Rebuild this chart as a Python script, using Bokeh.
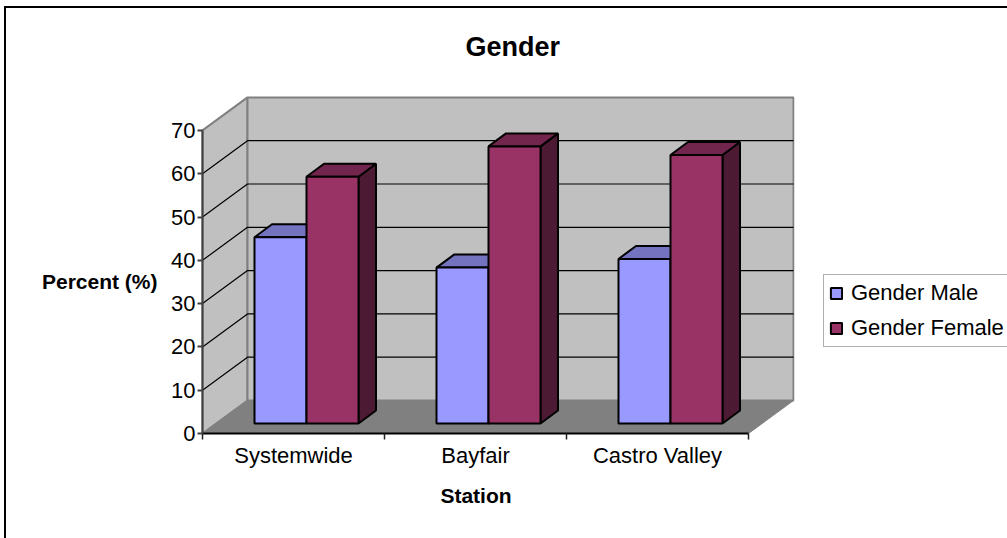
from bokeh.plotting import figure
from bokeh.models import Range1d, FixedTicker, LinearAxis, Legend, LegendItem, Title
from bokeh.embed import file_html
from bokeh.resources import INLINE

stations = ["Systemwide", "Bayfair", "Castro Valley"]
male = [43, 36, 38]
female = [57, 64, 62]
y_ticks = [0, 10, 20, 30, 40, 50, 60, 70]

W, H = 1007, 538
PX_X = 182.0      # pixels per category
PX_Y = 4.33       # pixels per percent
OX, OY = 202, 433                    # page position of the origin
FL, FR, FT, FB = 157, 794, 90, 472   # plot frame on the page
DX, DY = 45 / PX_X, 33 / PX_Y        # wall depth
SX, SY = 13 / PX_X, 10 / PX_Y        # bar plane shift
BX, BY = 17.5 / PX_X, 13 / PX_Y      # bar depth
BAR = 52 / PX_X

FONT = "Liberation Sans"
p = figure(width=W, height=H, frame_width=FR - FL, frame_height=FB - FT,
           output_backend="svg", toolbar_location=None,
           x_axis_type=None, y_axis_type=None,
           x_range=Range1d((FL - OX) / PX_X, (FR - OX) / PX_X),
           y_range=Range1d((OY - FB) / PX_Y, (OY - FT) / PX_Y),
           min_border_left=FL, min_border_right=W - FR, min_border_top=FT, min_border_bottom=H - FB,
           outline_line_color=None, border_fill_color=None, background_fill_color=None,
           styles={"background": "linear-gradient(#000,#000) 4px 6px / 2px 100% no-repeat, "
                                 "linear-gradient(#000,#000) 4px 6px / 100% 2px no-repeat"})
p.grid.visible = False

n = len(stations)
# walls and floor
p.patch([0, DX, DX, 0], [0, DY, 70 + DY, 70], fill_color="#C0C0C0", line_color="#808080", line_width=2)
p.patch([DX, n + DX, n + DX, DX], [DY, DY, 70 + DY, 70 + DY], fill_color="#C0C0C0", line_color="#808080", line_width=2)
p.patch([0, n, n + DX, DX], [0, 0, DY, DY], fill_color="#808080", line_color="#808080", line_width=1)
# grid lines
for t in y_ticks[1:-1]:
    p.line([0, DX, n + DX], [t, t + DY, t + DY], line_color="#000000", line_width=1.2)

# bars
rm = rf = None
for i in range(n):
    c = i + 0.5 + SX
    for j, (vals, front, top, side) in enumerate([
        (male, "#9999FF", "#7373BF", "#4D4D80"),
        (female, "#993366", "#73264D", "#4D1A33"),
    ]):
        x0 = c - BAR + j * BAR
        x1 = x0 + BAR
        v = vals[i] + SY
        p.patch([x1, x1 + BX, x1 + BX, x1], [SY, SY + BY, v + BY, v], fill_color=side, line_color="black", line_width=2)
        p.patch([x0, x0 + BX, x1 + BX, x1], [v, v + BY, v + BY, v], fill_color=top, line_color="black", line_width=2)
        r = p.quad(left=[x0], right=[x1], bottom=[SY], top=[v], fill_color=front, line_color="black", line_width=2)
        if j == 0:
            rm = r
        else:
            rf = r

# axis titles: label-only axes in the side panels
yl = LinearAxis(ticker=FixedTicker(ticks=[]), axis_line_color=None, major_tick_line_color=None, minor_tick_line_color=None,
                major_label_text_font_size="0px", axis_label="Percent (%)", axis_label_orientation="horizontal",
                axis_label_text_font=FONT, axis_label_text_font_style="bold", axis_label_text_font_size="21px",
                axis_label_text_color="black", axis_label_standoff=0)
p.add_layout(yl, "left")
xl = LinearAxis(ticker=FixedTicker(ticks=[]), axis_line_color=None, major_tick_line_color=None, minor_tick_line_color=None,
                major_label_text_font_size="0px", axis_label="Station",
                axis_label_text_font=FONT, axis_label_text_font_style="bold", axis_label_text_font_size="21px",
                axis_label_text_color="black", axis_label_standoff=11)
p.add_layout(xl, "below")

# axes with ticks, fixed at the chart's origin
ya = LinearAxis(ticker=FixedTicker(ticks=y_ticks), bounds=(0, 70), fixed_location=0,
                major_label_text_font=FONT, major_label_text_font_size="22px", major_label_text_color="black",
                major_tick_out=5, major_tick_in=0, minor_tick_out=0, minor_tick_in=0,
                major_tick_line_color="#404040", major_tick_line_width=2,
                axis_line_color="#404040", axis_line_width=2, major_label_standoff=2)
p.add_layout(ya, "left")

xa = LinearAxis(ticker=FixedTicker(ticks=[i + 0.5 for i in range(n)], minor_ticks=list(range(n + 1))),
                bounds=(0, n), fixed_location=0,
                major_label_text_font=FONT, major_label_text_font_size="22px", major_label_text_color="black",
                major_label_overrides={i + 0.5: s for i, s in enumerate(stations)},
                major_tick_out=0, major_tick_in=0, minor_tick_out=6, minor_tick_in=0,
                minor_tick_line_color="#202020", minor_tick_line_width=1.5,
                axis_line_color="black", axis_line_width=2, major_label_standoff=3)
p.add_layout(xa, "below")

# title
t = Title(text="Gender", align="left", offset=308, text_font=FONT, text_font_size="27px",
          text_font_style="bold", text_color="black", standoff=58, text_line_height=0.8)
p.add_layout(t, "above")

# legend
leg = Legend(items=[LegendItem(label="Gender Male", renderers=[rm]), LegendItem(label="Gender Female", renderers=[rf])],
             location=(29, 125), orientation="vertical", label_text_font=FONT, label_text_font_size="22px",
             label_text_color="black", glyph_width=14, glyph_height=14, spacing=9, padding=5, margin=0,
             border_line_color="#606060", border_line_width=1.5, background_fill_color="white", background_fill_alpha=1,
             label_standoff=8)
p.add_layout(leg, "right")

open("out.html", "w").write(file_html(p, INLINE))
